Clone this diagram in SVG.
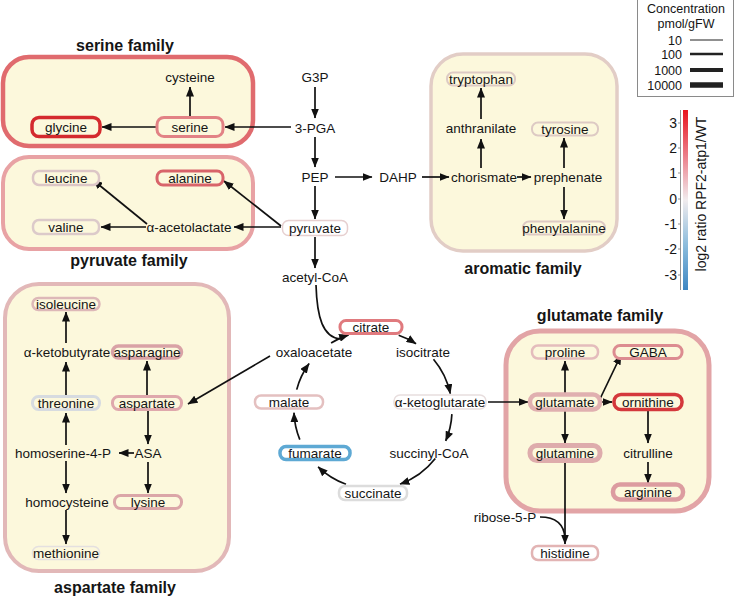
<svg xmlns="http://www.w3.org/2000/svg" width="736" height="596" viewBox="0 0 736 596">
<defs>
<marker id="ah" markerUnits="userSpaceOnUse" markerWidth="10" markerHeight="8" refX="9.5" refY="4" orient="auto"><path d="M0,0 L10,4 L0,8 z" fill="#111"/></marker>
<linearGradient id="cbar" x1="0" y1="0" x2="0" y2="1">
<stop offset="0" stop-color="#e8141e"/><stop offset="0.25" stop-color="#ec7d88"/><stop offset="0.5" stop-color="#f1ecee"/><stop offset="0.75" stop-color="#8cbcdc"/><stop offset="1" stop-color="#3d86c2"/>
</linearGradient>
<style>
text{font-family:"Liberation Sans",Arial,sans-serif;fill:#151515}
.t{font-size:13.5px;text-anchor:middle}
.f{font-size:16px;font-weight:bold;text-anchor:middle}
.l{font-size:12.5px}
.box{fill:#fcf8dc}
.n{fill:#fff}
.in{fill:#fcf8dc}
.e{fill:none;stroke:#111;stroke-width:1.7;marker-end:url(#ah)}
.c{fill:none;stroke:#111;stroke-width:1.7}
</style>
</defs>

<g id="families">
<rect class="box" x="3" y="57" width="250" height="89" rx="26" stroke="#e06b6e" stroke-width="4.5"/>
<rect class="box" x="3" y="157" width="250" height="92" rx="26" stroke="#e8a2a4" stroke-width="4"/>
<rect class="box" x="431" y="54" width="186" height="197" rx="32" stroke="#e2cdc6" stroke-width="3.5"/>
<rect class="box" x="5" y="284" width="224" height="287" rx="34" stroke="#e2b8b8" stroke-width="4"/>
<rect class="box" x="506" y="331" width="203" height="180" rx="34" stroke="#e2a4a6" stroke-width="5"/>
<text class="f" x="125" y="51">serine family</text>
<text class="f" x="129" y="266">pyruvate family</text>
<text class="f" x="523" y="274">aromatic family</text>
<text class="f" x="115" y="593">aspartate family</text>
<text class="f" x="600" y="321">glutamate family</text>
</g>

<g id="connectors">
<path class="e" d="M315,87 L315,118"/>
<path class="e" d="M315,137 L315,167"/>
<path class="e" d="M315,186 L315,219"/>
<path class="e" d="M315,237 L315,268"/>
<path class="e" d="M291,127 L225,127"/>
<path class="e" d="M157,127 L102,127"/>
<path class="e" d="M190,117 L190,87"/>
<path class="e" d="M335,177 L372,177"/>
<path class="e" d="M422,177 L449,177"/>
<path class="e" d="M481,168 L481,139"/>
<path class="e" d="M481,119 L481,88"/>
<path class="e" d="M517,177 L531,177"/>
<path class="e" d="M564,168 L564,138"/>
<path class="e" d="M564,187 L564,219"/>
<path class="e" d="M281,226 L224,181"/>
<path class="e" d="M281,227 L234,227"/>
<path class="e" d="M147,224 L93,180"/>
<path class="e" d="M146,227 L101,227"/>
<path class="c" d="M316,285 C317,318 323,337 340,339"/>
<path class="e" d="M398.7,335.3 A79,79 0 0 1 416,343.7"/>
<path class="e" d="M433.5,359.2 A79,79 0 0 1 450.3,393.6"/>
<path class="e" d="M451.9,414.1 A79,79 0 0 1 445.7,440.9"/>
<path class="e" d="M435.3,458.6 A79,79 0 0 1 400,484.2"/>
<path class="e" d="M346,484.2 A79,79 0 0 1 318.1,466.8"/>
<path class="e" d="M299.8,439.6 A79,79 0 0 1 294,412.8"/>
<path class="e" d="M296.7,389.6 A79,79 0 0 1 309.1,363.6"/>
<path class="e" d="M331.1,343 A79,79 0 0 1 348.6,334.9"/>
<path class="e" d="M270,356 L188,404"/>
<path class="e" d="M147,396 L147,361"/>
<path class="e" d="M148,411 L148,444"/>
<path class="e" d="M134,453 L119,453"/>
<path class="e" d="M148,462 L148,493"/>
<path class="e" d="M66,445 L66,413"/>
<path class="e" d="M66,461 L66,493"/>
<path class="e" d="M66,510 L66,544"/>
<path class="e" d="M66,395 L66,362"/>
<path class="e" d="M66,343 L66,312"/>
<path class="e" d="M488,402 L528,402"/>
<path class="e" d="M565,393 L565,361"/>
<path class="e" d="M565,411 L565,443"/>
<path class="e" d="M599,401 L621,355"/>
<path class="e" d="M599,402 L612,402"/>
<path class="e" d="M648,411 L648,443"/>
<path class="e" d="M648,462 L648,483"/>
<path class="e" d="M565,462 L565,544"/>
<path class="c" d="M540,517 C556,517 564,524 565,538"/>
</g>

<g id="n-glycine"><rect class="in" x="32" y="117.5" width="68" height="19" rx="7" stroke="#d42a2e" stroke-width="3.5"/><text class="t" x="66" y="132">glycine</text></g>
<g id="n-serine"><rect class="in" x="157" y="117.5" width="66" height="19" rx="7" stroke="#e28285" stroke-width="3"/><text class="t" x="190" y="132">serine</text></g>
<g id="n-cysteine"><text class="t" x="190" y="82">cysteine</text></g>
<g id="n-leucine"><rect class="in" x="33" y="171" width="66" height="14" rx="6" stroke="#dcc6c6" stroke-width="2.5"/><text class="t" x="66" y="183">leucine</text></g>
<g id="n-alanine"><rect class="in" x="157" y="171" width="66" height="14" rx="6" stroke="#d8646a" stroke-width="3"/><text class="t" x="190" y="183">alanine</text></g>
<g id="n-valine"><rect class="in" x="33" y="220" width="66" height="14" rx="6" stroke="#dccaca" stroke-width="2.5"/><text class="t" x="66" y="232">valine</text></g>
<g id="n-acetolactate"><text class="t" x="189" y="232">α-acetolactate</text></g>
<g id="n-G3P"><text class="t" x="315" y="82">G3P</text></g>
<g id="n-3PGA"><text class="t" x="315" y="133">3-PGA</text></g>
<g id="n-PEP"><text class="t" x="315" y="182">PEP</text></g>
<g id="n-DAHP"><text class="t" x="398" y="182">DAHP</text></g>
<g id="n-pyruvate"><rect class="n" x="282.5" y="220.5" width="65" height="15" rx="6" stroke="#e6cfcf" stroke-width="1.5"/><text class="t" x="315" y="233">pyruvate</text></g>
<g id="n-acetylCoA"><text class="t" x="315" y="282">acetyl-CoA</text></g>
<g id="n-tryptophan"><rect class="in" x="447" y="72.5" width="68" height="13" rx="6" stroke="#ddcac4" stroke-width="2"/><text class="t" x="481" y="84">tryptophan</text></g>
<g id="n-anthranilate"><text class="t" x="481" y="133">anthranilate</text></g>
<g id="n-chorismate"><text class="t" x="484" y="182">chorismate</text></g>
<g id="n-prephenate"><text class="t" x="568" y="182">prephenate</text></g>
<g id="n-tyrosine"><rect class="in" x="532" y="122.5" width="66" height="13" rx="6" stroke="#ddcac4" stroke-width="2"/><text class="t" x="565" y="134">tyrosine</text></g>
<g id="n-phenylalanine"><rect class="in" x="523" y="221.5" width="82" height="13" rx="6" stroke="#ddcac4" stroke-width="2"/><text class="t" x="564" y="233">phenylalanine</text></g>

<g id="n-isoleucine"><rect class="in" x="32.5" y="298" width="67" height="12" rx="6" stroke="#ddb8b8" stroke-width="2.5"/><text class="t" x="66" y="309">isoleucine</text></g>
<g id="n-ketobutyrate"><text class="t" x="67" y="357">α-ketobutyrate</text></g>
<g id="n-asparagine"><rect class="in" x="112.5" y="346" width="69" height="12" rx="6" stroke="#d9a2a6" stroke-width="3.5"/><text class="t" x="147" y="357">asparagine</text></g>
<g id="n-threonine"><rect class="in" x="32.5" y="396.5" width="67" height="13" rx="6" stroke="#d7dbe0" stroke-width="3"/><text class="t" x="66" y="408">threonine</text></g>
<g id="n-aspartate"><rect class="in" x="112.5" y="396.5" width="69" height="13" rx="6" stroke="#dfa8ac" stroke-width="3"/><text class="t" x="147" y="408">aspartate</text></g>
<g id="n-homoserine"><text class="t" x="63" y="458">homoserine-4-P</text></g>
<g id="n-ASA"><text class="t" x="148" y="458">ASA</text></g>
<g id="n-homocysteine"><text class="t" x="67" y="507">homocysteine</text></g>
<g id="n-lysine"><rect class="in" x="114.5" y="495.5" width="67" height="13" rx="6" stroke="#dba6a8" stroke-width="3"/><text class="t" x="148" y="507">lysine</text></g>
<g id="n-methionine"><rect class="in" x="32.5" y="546.5" width="67" height="13" rx="6" stroke="#e4e0e0" stroke-width="1.5"/><text class="t" x="66" y="558">methionine</text></g>

<g id="n-citrate"><rect class="n" x="340" y="320.5" width="62" height="13" rx="6" stroke="#e07a7e" stroke-width="3"/><text class="t" x="371" y="332">citrate</text></g>
<g id="n-oxaloacetate"><text class="t" x="314" y="357">oxaloacetate</text></g>
<g id="n-isocitrate"><text class="t" x="423" y="357">isocitrate</text></g>
<g id="n-aKG"><rect class="n" x="394" y="395" width="92" height="14" rx="6" stroke="#e8dede" stroke-width="1.5"/><text class="t" x="440" y="407">α-ketoglutarate</text></g>
<g id="n-succinylCoA"><text class="t" x="429" y="458">succinyl-CoA</text></g>
<g id="n-succinate"><rect class="n" x="339" y="486" width="68" height="14" rx="6" stroke="#dcdcdc" stroke-width="2.5"/><text class="t" x="373" y="498">succinate</text></g>
<g id="n-fumarate"><rect class="n" x="280" y="446.5" width="70" height="13" rx="6" stroke="#5ea9d4" stroke-width="3.5"/><text class="t" x="315" y="458">fumarate</text></g>
<g id="n-malate"><rect class="n" x="255" y="395.5" width="68" height="13" rx="6" stroke="#e4c0c0" stroke-width="2.5"/><text class="t" x="289" y="407">malate</text></g>

<g id="n-proline"><rect class="in" x="532" y="345.5" width="66" height="13" rx="6" stroke="#e4bcbc" stroke-width="2.5"/><text class="t" x="565" y="357">proline</text></g>
<g id="n-GABA"><rect class="in" x="614" y="345.5" width="68" height="13" rx="6" stroke="#dc8c90" stroke-width="3"/><text class="t" x="648" y="357">GABA</text></g>
<g id="n-glutamate"><rect class="in" x="530" y="394.5" width="70" height="15" rx="7" stroke="#e0b0b0" stroke-width="4.5"/><text class="t" x="565" y="407">glutamate</text></g>
<g id="n-ornithine"><rect class="in" x="614" y="394.5" width="68" height="15" rx="7" stroke="#d4383c" stroke-width="3.5"/><text class="t" x="648" y="407">ornithine</text></g>
<g id="n-glutamine"><rect class="in" x="530" y="445.5" width="70" height="15" rx="7" stroke="#deacac" stroke-width="5"/><text class="t" x="565" y="458">glutamine</text></g>
<g id="n-citrulline"><text class="t" x="648" y="458">citrulline</text></g>
<g id="n-arginine"><rect class="in" x="613" y="484.5" width="70" height="15" rx="7" stroke="#dc9ca0" stroke-width="4.5"/><text class="t" x="648" y="497">arginine</text></g>
<g id="n-ribose"><text class="t" x="505" y="522">ribose-5-P</text></g>
<g id="n-histidine"><rect class="n" x="532" y="546" width="66" height="14" rx="6" stroke="#e2b4b4" stroke-width="2.5"/><text class="t" x="565" y="558">histidine</text></g>

<g id="legend">
<rect x="637.5" y="-0.5" width="96" height="97" fill="#fff" stroke="#8a8a8a" stroke-width="1"/>
<text class="l" x="686" y="13" text-anchor="middle">Concentration</text>
<text class="l" x="686" y="28" text-anchor="middle">pmol/gFW</text>
<text class="l" x="682" y="45" text-anchor="end">10</text>
<text class="l" x="682" y="59" text-anchor="end">100</text>
<text class="l" x="682" y="75" text-anchor="end">1000</text>
<text class="l" x="682" y="90" text-anchor="end">10000</text>
<line x1="690" y1="40" x2="723" y2="40" stroke="#222" stroke-width="1.2"/>
<line x1="690" y1="54" x2="723" y2="54" stroke="#222" stroke-width="2.5"/>
<line x1="690" y1="70" x2="723" y2="70" stroke="#222" stroke-width="4"/>
<line x1="690" y1="85" x2="723" y2="85" stroke="#222" stroke-width="5.5"/>
</g>
<g id="colorbar">
<rect x="683" y="110" width="5" height="180" fill="url(#cbar)"/>
<line x1="680.5" y1="110" x2="680.5" y2="290" stroke="#777" stroke-width="0.8"/>
<g stroke="#777" stroke-width="0.8">
<line x1="678" y1="123" x2="680.5" y2="123"/><line x1="678" y1="148" x2="680.5" y2="148"/><line x1="678" y1="173" x2="680.5" y2="173"/><line x1="678" y1="199" x2="680.5" y2="199"/><line x1="678" y1="224" x2="680.5" y2="224"/><line x1="678" y1="249" x2="680.5" y2="249"/><line x1="678" y1="275" x2="680.5" y2="275"/>
</g>
<g font-size="14" text-anchor="end">
<text x="677" y="128">3</text><text x="677" y="153">2</text><text x="677" y="178">1</text><text x="677" y="204">0</text><text x="677" y="229">-1</text><text x="677" y="254">-2</text><text x="677" y="280">-3</text>
</g>
<text transform="translate(706,194) rotate(-90)" font-size="14" text-anchor="middle">log2 ratio RPF2-atp1/WT</text>
</g>
</svg>
